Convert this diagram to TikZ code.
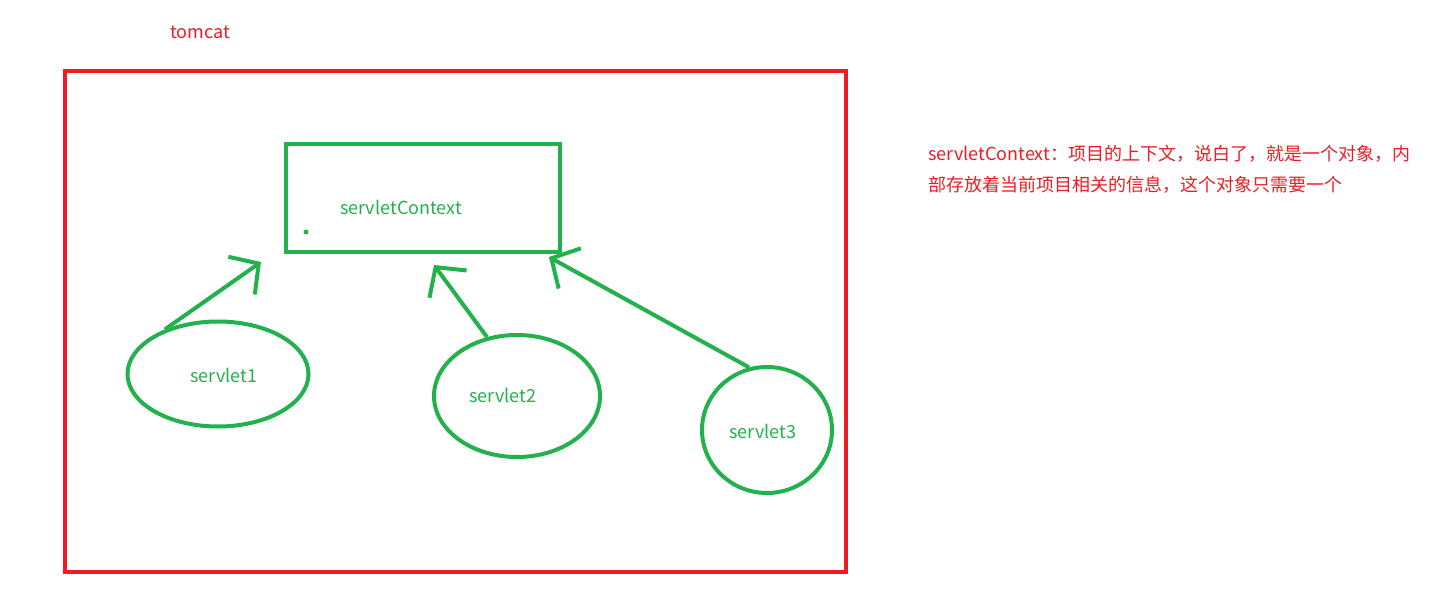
\documentclass[tikz,border=0pt]{standalone}
\usepackage{fontspec}
\setmainfont{Noto Sans CJK SC}
\usetikzlibrary{shapes.geometric,arrows.meta}
\definecolor{paintred}{HTML}{ED1C24}
\definecolor{paintgreen}{HTML}{22B14C}

\begin{document}
\begin{tikzpicture}[x=1pt,y=-1pt,
        servlet/.style={draw=paintgreen, line width=4pt, ellipse, inner sep=0pt},
        greentext/.style={text=paintgreen, font=\fontsize{18}{20}\selectfont, inner sep=0pt},
        link/.style={draw=paintgreen, line width=4pt, -{Straight Barb[length=21pt,width=46pt]}}]
            \useasboundingbox (0,0) rectangle (1431,596);

            % tomcat
            \node[text=paintred, font=\fontsize{18}{20}\selectfont] (tomcat) at (200,32) {tomcat};
            \draw[paintred, line width=4pt] (65,71) rectangle (846,572);

            % servletContext
            \node[draw=paintgreen, line width=4.5pt, minimum width=274pt, minimum height=108pt] (ctx) at (423,198) {};
            \node[greentext] (ctxtext) at (401,207) {servletContext};
            \fill[paintgreen] (306,232) circle (2.5pt);

            % servlets
            \node[servlet, minimum width=181pt, minimum height=105pt] (s1) at (218,374) {};
            \node[servlet, minimum width=166pt, minimum height=122pt] (s2) at (517,396) {};
            \node[servlet, minimum width=130pt, minimum height=126pt] (s3) at (767,430) {};
            \node[greentext] (s1text) at (224,375) {servlet1};
            \node[greentext] (s2text) at (503,395) {servlet2};
            \node[greentext] (s3text) at (763,431) {servlet3};

            \coordinate (t1) at (261,262);
            \coordinate (t2) at (434,265);
            \coordinate (t3) at (549,257);
            \draw[link] (s1.140) -- (t1);
            \draw[link] (s2.117) -- (t2);
            \draw[link] (s3.106) -- (t3);

            % note
            \node[anchor=north west, align=left, text=paintred, font=\fontsize{18}{31}\selectfont, inner sep=0pt] (note) at (928,145)
                {servletContext：项目的上下文，说白了，就是一个对象，内\\部存放着当前项目相关的信息，这个对象只需要一个};
        \end{tikzpicture}
\end{document}
